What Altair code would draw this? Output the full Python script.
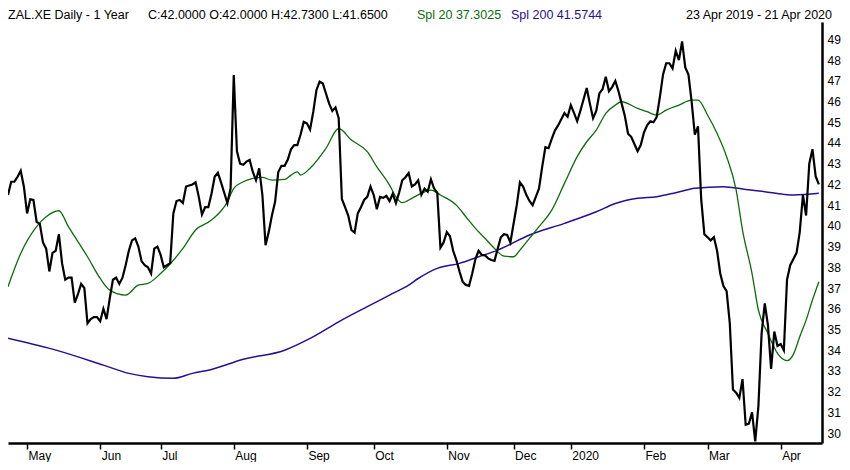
import altair as alt
import pandas as pd

# ---------------- data ----------------
# daily closes, one per trading day (index 0 = 23 Apr 2019 ... 255 = 21 Apr 2020)
PRICE = [
    41.49, 42.13, 42.13, 42.37, 42.66, 41.89, 40.60, 41.28, 41.25, 40.20,
    40.10, 39.20, 38.90, 37.80, 38.70, 38.80, 39.60, 38.20, 37.40, 37.50,
    37.50, 36.30, 36.70, 37.20, 37.00, 35.30, 35.50, 35.60, 35.60, 35.40,
    36.00, 35.50, 36.50, 37.40, 37.50, 37.20, 37.50, 38.10, 38.80, 39.30,
    39.40, 39.00, 38.30, 38.10, 38.00, 37.70, 38.90, 39.00, 38.60, 38.00,
    38.10, 38.20, 40.60, 41.20, 41.25, 41.10, 41.90, 41.95, 42.00, 42.10,
    41.40, 40.55, 40.90, 40.90, 41.55, 42.37, 42.56, 42.10, 41.60, 41.10,
    41.80, 47.28, 43.60, 43.00, 42.95, 43.10, 43.18, 42.60, 42.20, 42.78,
    41.50, 39.07, 39.70, 40.50, 41.16, 42.60, 42.90, 42.90, 43.20, 43.70,
    43.90, 43.90, 44.40, 45.02, 44.95, 44.65, 45.50, 46.55, 46.96, 46.87,
    46.39, 45.90, 45.55, 45.72, 45.20, 41.30, 40.90, 40.50, 39.80, 39.67,
    40.60, 40.90, 41.25, 41.40, 41.90, 41.50, 40.80, 41.40, 41.35, 41.45,
    41.20, 41.55, 41.10, 41.60, 42.20, 42.35, 42.55, 41.90, 42.00, 42.20,
    41.50, 41.80, 41.65, 42.25, 41.80, 41.60, 38.95, 39.20, 39.70, 39.50,
    38.80, 38.35, 37.80, 37.30, 37.15, 37.10, 37.70, 38.40, 38.80, 38.60,
    38.58, 38.43, 38.35, 38.31, 38.90, 39.45, 39.60, 39.56, 39.20, 40.10,
    41.00, 42.10, 41.90, 41.50, 41.20, 41.00, 41.40, 41.80, 42.85, 43.80,
    43.75, 44.20, 44.60, 44.85, 45.15, 45.45, 45.27, 45.83, 45.45, 45.05,
    45.55, 46.10, 46.65, 45.90, 45.20, 45.55, 46.40, 46.60, 47.20, 46.50,
    46.70, 47.00, 46.50, 45.90, 45.30, 44.45, 44.30, 43.95, 43.60, 43.90,
    44.50, 44.85, 45.05, 45.00, 45.25, 46.20, 47.30, 47.85, 47.85, 47.60,
    48.45, 48.00, 48.90, 47.65, 47.30, 46.00, 44.40, 44.80, 41.30, 39.60,
    39.45, 39.30, 39.45, 38.80, 37.70, 37.10, 36.85, 35.30, 32.10, 31.95,
    31.70, 32.60, 30.40, 30.45, 31.00, 29.60, 31.30, 34.80, 36.26, 35.20,
    33.10, 34.90, 34.20, 34.30, 34.00, 37.40, 38.10, 38.40, 38.70, 39.70,
    41.50, 40.50, 43.00, 43.70, 42.40, 42.00,
]
DAYS = list(range(len(PRICE)))

# Spl 20 (green)
SPL20_DAY = [0, 4, 9, 12, 16, 19, 25, 29, 32, 37, 41, 44, 48, 51, 55, 59, 64, 69,
             71, 74, 77, 80, 83, 87, 89, 91, 92, 95, 100, 104, 108, 113, 116, 120,
             122, 124, 127, 130, 133, 136, 141, 144, 147, 150, 153, 156, 159, 161,
             164, 167, 171, 175, 179, 182, 185, 188, 191, 193, 198, 201, 204, 207,
             211, 215, 217, 220, 223, 226, 229, 231, 234, 236, 239, 242, 245, 247,
             249, 251, 253, 255]
SPL20_VAL = [37.06, 38.67, 39.96, 40.44, 40.73, 39.96, 38.51, 37.46, 36.90, 36.66,
             37.14, 37.22, 37.70, 38.16, 38.91, 39.80, 40.28, 41.16, 41.81, 42.13,
             42.29, 42.34, 42.21, 42.24, 42.45, 42.61, 42.45, 42.78, 43.74, 44.70,
             44.14, 43.58, 42.85, 41.97, 41.40, 41.12, 41.33, 41.57, 41.73, 41.49,
             41.00, 40.44, 39.88, 39.40, 38.91, 38.54, 38.51, 38.83, 39.40, 39.96,
             40.76, 42.05, 43.34, 44.06, 44.62, 45.43, 45.83, 45.99, 45.67, 45.51,
             45.35, 45.59, 45.83, 46.07, 46.07, 45.35, 44.46, 43.34, 41.73, 39.80,
             37.70, 35.94, 34.81, 33.85, 33.50, 33.80, 34.65, 35.45, 36.42, 37.30]

# Spl 200 (purple)
SPL200_DAY = [0, 14, 30, 38, 44, 52, 58, 64, 74, 87, 95, 104, 113, 120, 126, 129,
              135, 142, 148, 154, 164, 175, 185, 191, 198, 204, 210, 216, 225, 232,
              238, 244, 247, 255]
SPL200_VAL = [34.58, 34.05, 33.28, 32.88, 32.72, 32.64, 32.88, 33.07, 33.56, 34.00,
              34.57, 35.37, 36.10, 36.66, 37.14, 37.46, 37.95, 38.19, 38.51, 38.83,
              39.56, 40.12, 40.68, 41.08, 41.33, 41.41, 41.60, 41.81, 41.89, 41.76,
              41.65, 41.52, 41.49, 41.57]

# axis ticks
TICK_DAYS = [6, 29, 48, 71, 94, 115, 138, 159, 177, 200, 220, 243]
TICK_LABELS = ["May", "Jun", "Jul", "Aug", "Sep", "Oct", "Nov", "Dec", "2020",
               "Feb", "Mar", "Apr"]
Y_TICKS = list(range(30, 50))

# header texts
HEAD_TITLE = "ZAL.XE Daily -  1 Year"
HEAD_OHLC = "C:42.0000 O:42.0000 H:42.7300 L:41.6500"
HEAD_SPL20 = "Spl 20 37.3025"
HEAD_SPL200 = "Spl 200 41.5744"
HEAD_RANGE = "23 Apr 2019  -  21 Apr 2020"

# ---------------- styling ----------------
FONT = "Liberation Sans, Arial, sans-serif"
GREEN = "#0b6e0b"
PURPLE = "#2c0e93"

X_DOMAIN = [0, 256]
Y_DOMAIN = [29.52, 49.84]

label_expr = " : ".join(
    f"datum.value == {d} ? '{l}'" for d, l in zip(TICK_DAYS, TICK_LABELS)
) + " : ''"

x_scale = alt.Scale(domain=X_DOMAIN, nice=False, zero=False)
y_scale = alt.Scale(domain=Y_DOMAIN, nice=False, zero=False)

x_axis = alt.Axis(
    orient="bottom", values=TICK_DAYS, labelExpr=label_expr, title=None,
    grid=False, tickSize=6, tickColor="black", tickWidth=1.5,
    domainColor="black", domainWidth=2.5, labelAlign="left", labelBaseline="top",
    labelOffset=1, labelPadding=1, labelFontSize=12, labelColor="black",
    labelFont=FONT, labelOverlap=False, labelFlush=False,
)
y_axis = alt.Axis(
    orient="right", values=Y_TICKS, title=None, grid=False, ticks=False,
    domainColor="black", domainWidth=2.5, labelPadding=5, labelFontSize=12,
    labelColor="black", labelFont=FONT, labelAlign="left", labelBaseline="middle",
    labelOverlap=False, labelFlush=False,
)


def line(df, color, width, interp):
    return alt.Chart(df).mark_line(
        color=color, strokeWidth=width, interpolate=interp
    ).encode(
        x=alt.X("d:Q", scale=x_scale, axis=x_axis),
        y=alt.Y("v:Q", scale=y_scale, axis=y_axis),
    )


price_df = pd.DataFrame({"d": DAYS, "v": PRICE})
spl20_df = pd.DataFrame({"d": SPL20_DAY, "v": SPL20_VAL})
spl200_df = pd.DataFrame({"d": SPL200_DAY, "v": SPL200_VAL})

spl200 = line(spl200_df, PURPLE, 1.5, "monotone")
spl20 = line(spl20_df, GREEN, 1.3, "monotone")
price = line(price_df, "black", 2.2, "linear")


def head(text, x, color, align="left"):
    return alt.Chart(pd.DataFrame({"t": [text]})).mark_text(
        align=align, baseline="middle", font=FONT, fontSize=12.5, color=color
    ).encode(text="t:N", x=alt.value(x), y=alt.value(-7))


chart = alt.layer(
    spl200, spl20, price,
    head(HEAD_TITLE, 0, "black"),
    head(HEAD_OHLC, 140, "black"),
    head(HEAD_SPL20, 409, GREEN),
    head(HEAD_SPL200, 503, PURPLE),
    head(HEAD_RANGE, 824, "black", align="right"),
).resolve_scale(x="shared", y="shared").properties(
    width=814, height=421,
    autosize=alt.AutoSizeParams(type="none"),
    padding={"left": 0, "top": 14, "right": 20, "bottom": 19},
    background="white",
).configure_view(stroke=None)

chart.save("out.html", embed_options={"renderer": "svg", "actions": False})
